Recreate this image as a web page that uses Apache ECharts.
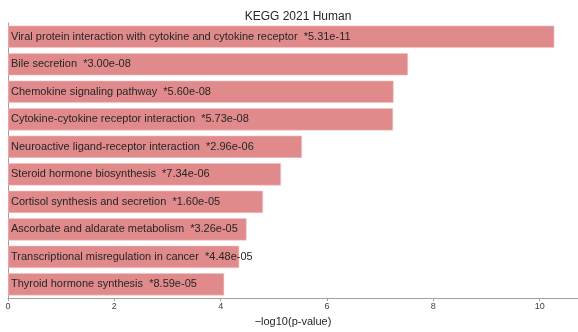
<!DOCTYPE html>
<html>
<head>
<meta charset="utf-8">
<script src="https://cdn.jsdelivr.net/npm/echarts@6/dist/echarts.min.js"></script>
<style>
  html, body { margin: 0; padding: 0; background: #fff; }
  #chart { width: 578px; height: 332px; }
</style>
</head>
<body>
<div id="chart"></div>
<script>
// KEGG 2021 Human enrichment terms, top to bottom
const terms = [
  'Viral protein interaction with cytokine and cytokine receptor',
  'Bile secretion',
  'Chemokine signaling pathway',
  'Cytokine-cytokine receptor interaction',
  'Neuroactive ligand-receptor interaction',
  'Steroid hormone biosynthesis',
  'Cortisol synthesis and secretion',
  'Ascorbate and aldarate metabolism',
  'Transcriptional misregulation in cancer',
  'Thyroid hormone synthesis'
];
// p-value labels shown next to each term
const pLabels = [
  '5.31e-11', '3.00e-08', '5.60e-08', '5.73e-08', '2.96e-06',
  '7.34e-06', '1.60e-05', '3.26e-05', '4.48e-05', '8.59e-05'
];
const xTicks = [0, 2, 4, 6, 8, 10];

// bar length is -log10 of the stated p-value
const scores = pLabels.map(p => -Math.log10(parseFloat(p)));

// category axis runs bottom-up, so reverse to keep the first term on top
const cats = terms.slice().reverse();
const data = scores.map((v, i) => ({ value: v, name: terms[i], p: pLabels[i] })).reverse();

const font = 'Liberation Sans, Arial, sans-serif';
const chart = echarts.init(document.getElementById('chart'), null, { renderer: 'canvas' });
chart.setOption({
  animation: false,
  title: {
    text: 'KEGG 2021 Human',
    left: 293, top: 6, textAlign: 'center',
    textStyle: { fontFamily: font, fontSize: 12, fontWeight: 'normal', color: '#262626' }
  },
  grid: { left: 8, right: 0, top: 23, bottom: 24, containLabel: false },
  xAxis: {
    type: 'value', min: 0, max: 10.72, interval: 2,
    name: '\u2212log10(p-value)', nameLocation: 'middle', nameGap: 13,
    nameTextStyle: { fontFamily: font, fontSize: 11, color: '#262626' },
    axisLine: { show: true, lineStyle: { color: '#a0a0a0', width: 1 } },
    axisTick: { show: true, length: 3, lineStyle: { color: '#a0a0a0' } },
    axisLabel: {
      fontFamily: font, fontSize: 9, color: '#404040', margin: 4,
      showMaxLabel: false,
      formatter: v => (xTicks.includes(v) ? String(v) : '')
    },
    splitLine: { show: false }
  },
  yAxis: {
    type: 'category', data: cats,
    axisLine: { show: true, lineStyle: { color: '#a0a0a0', width: 1 } },
    axisTick: { show: false },
    axisLabel: { show: false },
    splitLine: { show: false }
  },
  series: [{
    type: 'bar',
    data: data,
    barCategoryGap: '19%',
    itemStyle: { color: '#e08a8b', borderColor: '#f4c4c4', borderWidth: 0.6 },
    label: {
      show: true, position: 'insideLeft', distance: 3,
      fontFamily: font, fontSize: 11, color: '#262626',
      formatter: p => p.data.name + '  *' + p.data.p
    }
  }]
});
</script>
</body>
</html>
